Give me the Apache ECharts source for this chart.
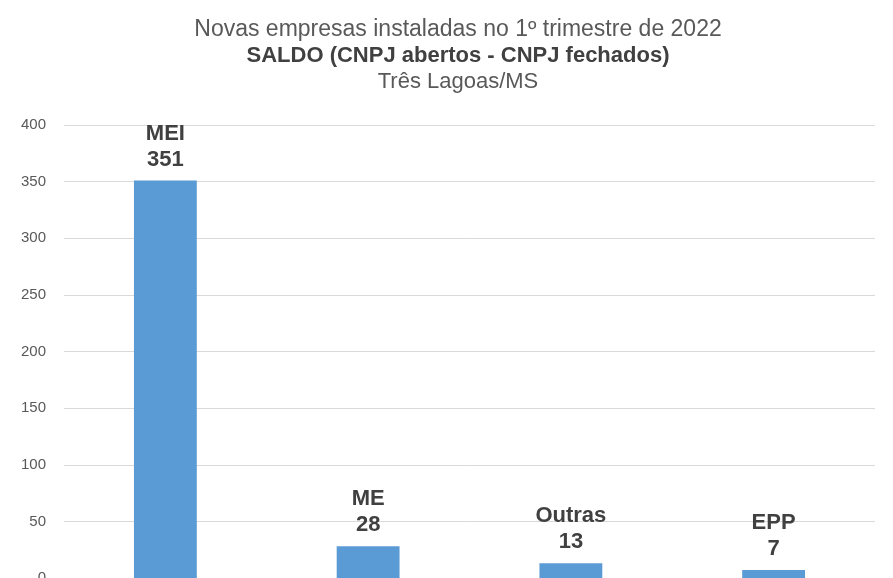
<!DOCTYPE html>
<html><head><meta charset="utf-8">
<script src="https://cdn.jsdelivr.net/npm/echarts@6/dist/echarts.min.js"></script>
<style>html,body{margin:0;padding:0;background:#fff}#c{width:893px;height:578px}</style>
</head><body><div id="c"></div>
<script>
const categories = ['MEI', 'ME', 'Outras', 'EPP'];
const values = [351, 28, 13, 7];
const yTicks = [0, 50, 100, 150, 200, 250, 300, 350, 400];

const chart = echarts.init(document.getElementById('c'));
chart.setOption({
  animation: false,
  title: {
    text: '{a|Novas empresas instaladas no 1º trimestre de 2022}\n{b|SALDO (CNPJ abertos - CNPJ fechados)}\n{c|Três Lagoas/MS}',
    left: 453, textAlign: 'center', top: 11,
    textStyle: {
      fontWeight: 'normal',
      rich: {
        a: {fontFamily: 'Arial, Liberation Sans', fontSize: 23, fontWeight: 'normal', color: '#595959', lineHeight: 27},
        b: {fontFamily: 'Arial, Liberation Sans', fontSize: 22, fontWeight: 'bold', color: '#404040', lineHeight: 26},
        c: {fontFamily: 'Arial, Liberation Sans', fontSize: 22, fontWeight: 'normal', color: '#595959', lineHeight: 26}
      }
    }
  },
  grid: {left: 64, right: 18, top: 125, bottom: 0, containLabel: false, outerBoundsMode: 'none'},
  xAxis: {
    type: 'category', data: categories,
    axisLine: {show: false}, axisTick: {show: false}, axisLabel: {show: false}
  },
  yAxis: {
    type: 'value', min: yTicks[0], max: yTicks[yTicks.length - 1], interval: 50,
    axisLine: {show: false}, axisTick: {show: false},
    axisLabel: {fontFamily: 'Arial, Liberation Sans', fontSize: 15, color: '#595959', margin: 18},
    splitLine: {lineStyle: {color: '#d9d9d9', width: 1}}
  },
  series: [{
    type: 'bar', data: values, barWidth: '31%',
    itemStyle: {color: '#5B9BD5'},
    label: {
      show: true, position: 'top', distance: 8,
      formatter: p => p.name + '\n' + p.value,
      fontFamily: 'Arial, Liberation Sans', fontSize: 22, fontWeight: 'bold',
      color: '#404040', lineHeight: 26
    }
  }]
});
</script></body></html>
